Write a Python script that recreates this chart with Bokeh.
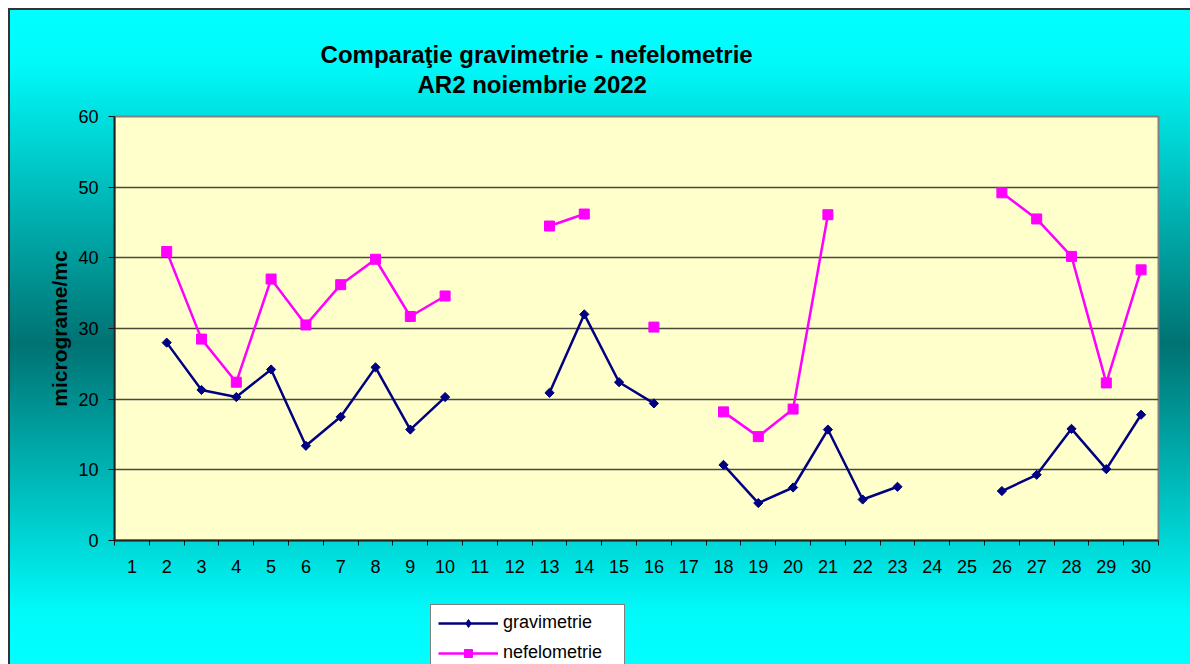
import math
from bokeh.plotting import figure
from bokeh.layouts import column
from bokeh.models import (Range1d, FixedTicker, Legend, LegendItem, Label)
from bokeh.embed import file_html
from bokeh.resources import INLINE

NaN = float("nan")

days = list(range(1, 31))
day_labels = [str(d) for d in days]
y_ticks = [0, 10, 20, 30, 40, 50, 60]

gravimetrie = [NaN, 28.0, 21.3, 20.3, 24.2, 13.4, 17.5, 24.5, 15.7, 20.3,
               NaN, NaN, 20.9, 32.0, 22.4, 19.4, NaN, 10.7, 5.3, 7.5,
               15.7, 5.8, 7.6, NaN, NaN, 7.0, 9.3, 15.8, 10.1, 17.8]
nefelometrie = [NaN, 40.9, 28.5, 22.4, 37.0, 30.5, 36.2, 39.8, 31.7, 34.6,
                NaN, NaN, 44.5, 46.2, NaN, 30.2, NaN, 18.2, 14.7, 18.6,
                46.1, NaN, NaN, NaN, NaN, 49.2, 45.5, 40.2, 22.3, 38.3]

title_line1 = "Comparaţie gravimetrie - nefelometrie"
title_line2 = "AR2  noiembrie 2022"
y_label = "micrograme/mc"
series_names = ["gravimetrie", "nefelometrie"]

FONT = "Liberation Sans"
NAVY = "#000080"
MAGENTA = "#FF00FF"
W = 1180
BL, BR = 104, 32


def bare(fig):
    fig.border_fill_color = None
    fig.background_fill_color = None
    fig.outline_line_color = None
    fig.axis.visible = False
    fig.grid.visible = False


# ---- title strip ----
t = figure(width=W, height=92, output_backend="svg", toolbar_location=None,
           x_range=Range1d(0.5, 30.5), y_range=Range1d(0, 92),
           min_border_left=BL, min_border_right=BR, min_border_top=0,
           min_border_bottom=0)
bare(t)
t.add_layout(Label(x=12.63, y=48, text=title_line1, text_align="center",
                   text_baseline="alphabetic", text_font=FONT,
                   text_font_size="24px", text_font_style="bold",
                   text_color="black"))
t.add_layout(Label(x=12.6, y=18, text=title_line2, text_align="center",
                   text_baseline="alphabetic", text_font=FONT,
                   text_font_size="24px", text_font_style="bold",
                   text_color="black"))

# ---- main chart ----
p = figure(width=W, height=488, output_backend="svg", toolbar_location=None,
           x_range=Range1d(0.5, 30.5), y_range=Range1d(0, 60),
           min_border_left=BL, min_border_right=BR, min_border_top=14,
           min_border_bottom=50)
p.border_fill_color = None
p.background_fill_color = "#FFFFCC"
p.outline_line_color = "#808080"
p.outline_line_width = 2

xa = p.xaxis[0]
xa.ticker = FixedTicker(ticks=days, minor_ticks=[d - 0.5 for d in days] + [30.5])
xa.major_label_overrides = {d: lab for d, lab in zip(days, day_labels)}
xa.major_tick_out = 0
xa.major_tick_in = 0
xa.minor_tick_out = 5
xa.minor_tick_in = 0
xa.minor_tick_line_color = "#111111"
xa.axis_line_color = "#222222"
xa.axis_line_width = 2
xa.major_label_text_font = FONT
xa.major_label_text_font_size = "18px"
xa.major_label_text_color = "black"
xa.major_label_standoff = 14

ya = p.yaxis[0]
ya.ticker = FixedTicker(ticks=y_ticks, minor_ticks=[])
ya.major_tick_out = 6
ya.major_tick_in = 0
ya.major_tick_line_color = "#111111"
ya.axis_line_color = "#222222"
ya.axis_line_width = 2
ya.major_label_text_font = FONT
ya.major_label_text_font_size = "18px"
ya.major_label_text_color = "black"
ya.major_label_standoff = 10
ya.axis_label = y_label
ya.axis_label_text_font = FONT
ya.axis_label_text_font_size = "21px"
ya.axis_label_text_font_style = "bold"
ya.axis_label_text_color = "black"
ya.axis_label_standoff = 4

p.xgrid.grid_line_color = None
p.ygrid.grid_line_color = "#4a4a3a"
p.ygrid.grid_line_width = 1.3

p.line(days, gravimetrie, line_color=NAVY, line_width=2.5)
p.scatter(days, gravimetrie, marker="square", angle=math.pi / 4, size=6.5,
          fill_color=NAVY, line_color=NAVY)
p.line(days, nefelometrie, line_color=MAGENTA, line_width=2.5)
p.scatter(days, nefelometrie, marker="square", size=10,
          fill_color=MAGENTA, line_color=MAGENTA)

# ---- legend strip ----
q = figure(width=W, height=74, output_backend="svg", toolbar_location=None,
           x_range=Range1d(100, 101), y_range=Range1d(100, 101),
           min_border_left=BL, min_border_right=BR, min_border_top=0,
           min_border_bottom=0)
bare(q)
lg_l = q.line(days, gravimetrie, line_color=NAVY, line_width=2.5)
lg_m = q.scatter(days, gravimetrie, marker="diamond", size=10,
                 fill_color=NAVY, line_color=NAVY)
ln_l = q.line(days, nefelometrie, line_color=MAGENTA, line_width=2.5)
ln_m = q.scatter(days, nefelometrie, marker="square", size=10,
                 fill_color=MAGENTA, line_color=MAGENTA)

legend = Legend(items=[LegendItem(label=series_names[0], renderers=[lg_l, lg_m]),
                       LegendItem(label=series_names[1], renderers=[ln_l, ln_m])],
                location=(316, -7))
legend.label_text_font = FONT
legend.label_text_font_size = "18px"
legend.label_text_color = "black"
legend.glyph_width = 60
legend.glyph_height = 20
legend.label_height = 20
legend.label_width = 114
legend.label_standoff = 5
legend.spacing = 9
legend.padding = 7
legend.margin = 0
legend.border_line_color = "black"
legend.border_line_width = 1
legend.background_fill_color = "white"
legend.background_fill_alpha = 1
q.add_layout(legend)

layout = column(t, p, q, spacing=0)
layout.styles = {
    "background": "linear-gradient(180deg, #00FFFF 0%, #00FAFA 8%, #007272 51%, #00FAFA 92%, #00FFFF 100%)",
    "border-top": "2px solid #333333",
    "border-left": "2px solid #333333",
    "margin-left": "8px",
    "margin-top": "8px",
}

open("out.html", "w").write(file_html(layout, INLINE))
